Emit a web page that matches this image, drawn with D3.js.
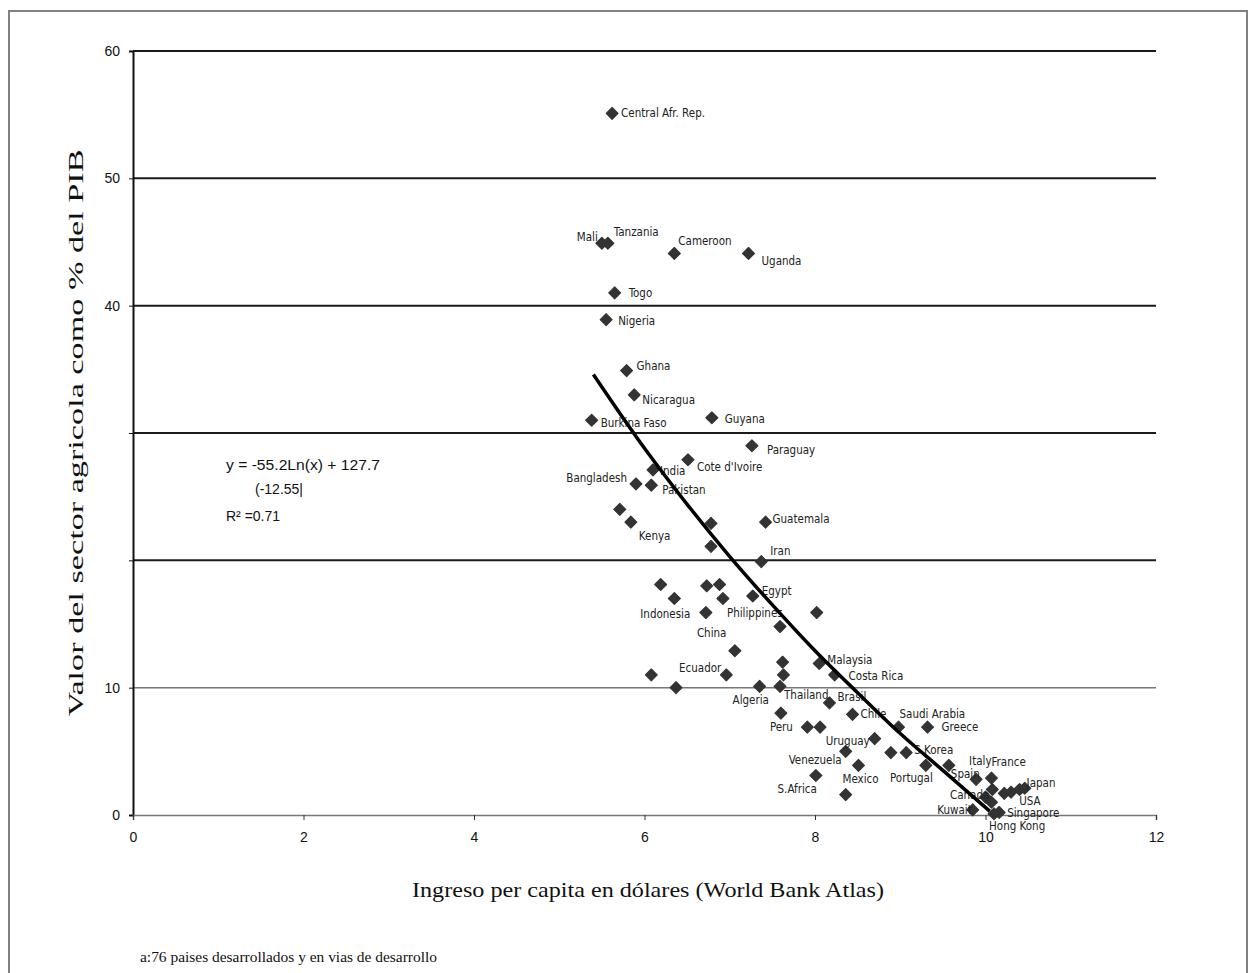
<!DOCTYPE html>
<html lang="es">
<head>
<meta charset="UTF-8">
<title>Sector agricola vs ingreso</title>
<script src="https://d3js.org/d3.v7.min.js"></script>
<style>
  body { margin: 0; background: #fff; }
  .lbl { font-family: "Liberation Sans Narrow", "Arial Narrow", "DejaVu Sans Condensed", sans-serif; font-size: 11.5px; fill: #222; }
  .tick text { font-family: "Liberation Sans", Arial, sans-serif; font-size: 14px; fill: #111; }
  .ttl { font-family: "Liberation Serif", "Times New Roman", serif; fill: #111; }
  .eq { font-family: "Liberation Sans", Arial, sans-serif; font-size: 14px; fill: #111; }
</style>
</head>
<body>
<script>
// country names ('' = unlabeled point)
const names = [
  'Central Afr. Rep.', 'Mali', 'Tanzania', 'Cameroon', 'Uganda', 'Togo', 'Nigeria', 'Ghana',
  'Nicaragua', 'Burkina Faso', 'Guyana', 'Paraguay', "Cote d'Ivoire", 'India', 'Bangladesh', 'Pakistan',
  '', 'Kenya', '', '', 'Guatemala', 'Iran', '', 'Indonesia',
  '', '', 'Philippines', 'Egypt', 'China', '', '', '',
  'Ecuador', '', '', '', '', 'Algeria', 'Thailand', 'Malaysia',
  'Costa Rica', 'Brasil', 'Chile', 'Peru', '', '', 'Uruguay', 'Saudi Arabia',
  'Greece', 'Venezuela', 'Mexico', '', 'S.Korea', 'S.Africa', '', 'Portugal',
  'Spain', 'Italy', 'France', 'Canada', '', 'USA', 'Japan', '',
  'Kuwait', 'Singapore', 'Hong Kong', '', ''
]
// log of per capita income
const income = [
  5.62, 5.50, 5.57, 6.35, 7.22, 5.65, 5.55, 5.79,
  5.88, 5.38, 6.79, 7.26, 6.51, 6.10, 5.90, 6.08,
  5.71, 5.84, 6.78, 6.78, 7.42, 7.37, 6.19, 6.35,
  6.73, 6.88, 6.92, 7.27, 6.72, 7.59, 8.02, 7.06,
  6.96, 6.08, 6.37, 7.62, 7.63, 7.35, 7.59, 8.05,
  8.23, 8.17, 8.44, 7.60, 7.91, 8.06, 8.70, 8.98,
  9.32, 8.36, 8.51, 8.89, 9.07, 8.01, 8.36, 9.30,
  9.57, 9.89, 10.07, 10.08, 10.07, 10.22, 10.40, 10.46,
  9.85, 10.16, 10.10, 10.00, 10.30
]
// agriculture share of GDP (%)
const agri = [
  55.1, 44.9, 44.9, 44.1, 44.1, 41.0, 38.9, 34.9,
  33.0, 31.0, 31.2, 29.0, 27.9, 27.1, 26.0, 25.9,
  24.0, 23.0, 22.9, 21.1, 23.0, 19.9, 18.1, 17.0,
  18.0, 18.1, 17.0, 17.2, 15.9, 14.8, 15.9, 12.9,
  11.0, 11.0, 10.0, 12.0, 11.0, 10.1, 10.1, 11.9,
  11.0, 8.8, 7.9, 8.0, 6.9, 6.9, 6.0, 6.9,
  6.9, 5.0, 3.9, 4.9, 4.9, 3.1, 1.6, 3.9,
  3.9, 2.8, 2.9, 2.0, 1.0, 1.7, 2.0, 2.1,
  0.4, 0.2, 0.1, 1.4, 1.8
]
// fitted curve
const trendX = [5.4, 6.0, 6.5, 7.0, 7.5, 8.0, 8.5, 9.0, 9.5, 10.05]
const trendY = [34.6, 28.8, 24.4, 20.3, 16.5, 12.9, 9.6, 6.4, 3.5, 0.3]

const xTicks = [0, 2, 4, 6, 8, 10, 12]
const yTicks = [0, 10, 20, 30, 40, 50, 60]
const yTickLabels = ['0', '10', '', '', '40', '50', '60']

// label placement (pixels from the marker)
const place = {
  'Central Afr. Rep.': [9, 0], 'Mali': [-4, -6, 'end'], 'Tanzania': [6, -11], 'Cameroon': [4, -12],
  'Uganda': [13, 8], 'Togo': [14, 0], 'Nigeria': [12, 1], 'Ghana': [10, -5], 'Nicaragua': [8, 5],
  'Burkina Faso': [9, 3], 'Guyana': [13, 1], 'Paraguay': [15, 4], "Cote d'Ivoire": [9, 7],
  'India': [7, 1], 'Bangladesh': [-9, -6, 'end'], 'Pakistan': [11, 5], 'Kenya': [8, 14],
  'Guatemala': [7, -3], 'Iran': [9, -11], 'Indonesia': [16, 15, 'end'], 'Philippines': [4, 14],
  'Egypt': [9, -5], 'China': [-9, 20], 'Ecuador': [-5, -7, 'end'], 'Algeria': [-27, 14],
  'Thailand': [4, 9], 'Malaysia': [8, -3], 'Costa Rica': [14, 1], 'Brasil': [8, -6], 'Chile': [8, 0],
  'Peru': [-11, 14], 'Uruguay': [-5, 2, 'end'], 'Saudi Arabia': [1, -13], 'Greece': [14, 0],
  'S.Korea': [8, -3], 'Venezuela': [-4, 9, 'end'], 'Mexico': [-16, 14], 'Portugal': [7, 13, 'end'],
  'S.Africa': [1, 13, 'end'], 'Spain': [2, 9], 'Italy': [-7, -18], 'France': [0, -16],
  'Japan': [7, -7], 'USA': [15, 8], 'Canada': [-3, 5, 'end'], 'Kuwait': [-1, 0, 'end'],
  'Singapore': [8, 1], 'Hong Kong': [-5, 12]
}

const W = 1257, H = 973
const mLeft = 133, mRight = 1156, mTop = 51, mBottom = 815

const svg = d3.select('body').append('svg')
  .attr('width', W).attr('height', H)

// outer frame
svg.append('rect')
  .attr('x', 9).attr('y', 11).attr('width', 1238).attr('height', 1000)
  .attr('fill', 'none').attr('stroke', '#808080').attr('stroke-width', 2)

const x = d3.scaleLinear().domain([0, 12]).range([mLeft, mRight])
const y = d3.scaleLinear().domain([0, 60]).range([mBottom, mTop])

// gridlines
svg.append('g').selectAll('line')
  .data(yTicks.filter(d => d > 0))
  .enter().append('line')
  .attr('x1', mLeft).attr('x2', mRight)
  .attr('y1', d => y(d)).attr('y2', d => y(d))
  .attr('stroke', d => d == 10 ? '#777' : '#1a1a1a')
  .attr('stroke-width', d => d == 10 ? 1.5 : 2)

// y axis
const yAxis = svg.append('g')
  .attr('transform', `translate(${mLeft},0)`)
  .call(d3.axisLeft(y).tickValues(yTicks).tickSize(4).tickPadding(9)
    .tickFormat((d, i) => yTickLabels[i]))
yAxis.select('.domain').attr('stroke', '#111').attr('stroke-width', 2)
yAxis.selectAll('.tick line').attr('stroke', '#111')

// x axis
const xAxis = svg.append('g')
  .attr('transform', `translate(0,${mBottom})`)
  .call(d3.axisBottom(x).tickValues(xTicks).tickSize(5).tickPadding(12)
    .tickFormat(d3.format('d')))
xAxis.select('.domain').attr('stroke', '#777').attr('stroke-width', 1.5)
xAxis.selectAll('.tick line').attr('stroke', '#333')

// points
const pts = names.map((n, i) => ({ name: n, x: income[i], y: agri[i] }))
const sym = d3.symbol(d3.symbolSquare, 70)
svg.append('g').selectAll('path')
  .data(pts)
  .enter().append('path')
  .attr('d', sym)
  .attr('transform', d => `translate(${x(d.x)},${y(d.y)}) rotate(45)`)
  .attr('fill', '#333')
  .attr('stroke', '#333')
  .attr('stroke-width', 1.2)
  .attr('stroke-linejoin', 'round')

// labels
svg.append('g').selectAll('text')
  .data(pts.filter(d => d.name))
  .enter().append('text')
  .attr('class', 'lbl')
  .attr('x', d => x(d.x) + (place[d.name] || [6, 0])[0])
  .attr('y', d => y(d.y) + (place[d.name] || [6, 0])[1])
  .attr('dy', '0.35em')
  .attr('text-anchor', d => (place[d.name] || [])[2] || 'start')
  .text(d => d.name)

// trend line
const trend = trendX.map((v, i) => [v, trendY[i]])
svg.append('path')
  .datum(trend)
  .attr('d', d3.line().x(d => x(d[0])).y(d => y(d[1])).curve(d3.curveMonotoneX))
  .attr('fill', 'none')
  .attr('stroke', '#000')
  .attr('stroke-width', 3.5)

// equation
const eq = svg.append('g')
eq.append('text').attr('class', 'eq').attr('x', 226).attr('y', 470)
  .attr('textLength', 154).attr('lengthAdjust', 'spacingAndGlyphs')
  .text('y = -55.2Ln(x) + 127.7')
eq.append('text').attr('class', 'eq').attr('x', 255).attr('y', 494)
  .text('(-12.55|')
eq.append('text').attr('class', 'eq').attr('x', 226).attr('y', 521)
  .text('R² =0.71')

// axis titles
svg.append('text').attr('class', 'ttl')
  .attr('x', 648).attr('y', 897)
  .attr('text-anchor', 'middle')
  .attr('font-size', 21)
  .attr('textLength', 472).attr('lengthAdjust', 'spacingAndGlyphs')
  .text('Ingreso per capita en dólares (World Bank Atlas)')

svg.append('text').attr('class', 'ttl')
  .attr('transform', 'translate(83,433) rotate(-90)')
  .attr('text-anchor', 'middle')
  .attr('font-size', 22)
  .attr('textLength', 567).attr('lengthAdjust', 'spacingAndGlyphs')
  .text('Valor del sector agricola como % del PIB')

svg.append('text').attr('class', 'ttl')
  .attr('x', 140).attr('y', 962)
  .attr('font-size', 15)
  .attr('textLength', 297).attr('lengthAdjust', 'spacingAndGlyphs')
  .text('a:76 paises desarrollados y en vias de desarrollo')
</script>
</body>
</html>
